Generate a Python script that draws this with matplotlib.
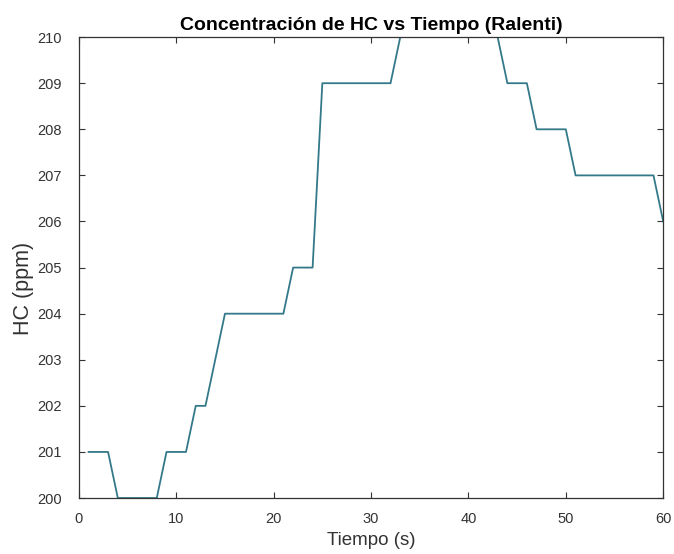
import matplotlib
matplotlib.use("Agg")
import matplotlib.pyplot as plt

plt.rcParams['font.family'] = ['Liberation Sans', 'DejaVu Sans']

tiempo = list(range(1, 61))
hc = [201, 201, 201, 200, 200, 200, 200, 200, 201, 201,
      201, 202, 202, 203, 204, 204, 204, 204, 204, 204,
      204, 205, 205, 205, 209, 209, 209, 209, 209, 209,
      209, 209, 210, 210, 210, 210, 210, 210, 210, 210,
      210, 210, 210, 209, 209, 209, 208, 208, 208, 208,
      207, 207, 207, 207, 207, 207, 207, 207, 207, 206]

xticks = [0, 10, 20, 30, 40, 50, 60]
yticks = list(range(200, 211))

fig = plt.figure(figsize=(6.74, 5.54), dpi=100)
ax = fig.add_axes([0.117, 0.101, 0.867, 0.832])
ax.plot(tiempo, hc, color='#34798a', linewidth=1.3)
ax.set_xlim(0, 60)
ax.set_ylim(200, 210)
ax.set_xticks(xticks)
ax.set_yticks(yticks)
ax.tick_params(direction='in', top=True, right=True, labelsize=10.5,
               colors='#333333', length=4, width=0.8)
ax.tick_params(axis='y', pad=12)
ax.tick_params(axis='x', pad=10)
for s in ax.spines.values():
    s.set_color('#333333')
    s.set_linewidth(0.9)
ax.set_title('Concentración de HC vs Tiempo (Ralenti)', fontsize=14,
             fontweight='bold', pad=5)
ax.set_xlabel('Tiempo (s)', fontsize=13.5, color='#333333')
ax.set_ylabel('HC (ppm)', fontsize=15.5, color='#333333')
ax.xaxis.set_label_coords(0.5, -0.074)
ax.yaxis.set_label_coords(-0.077, 0.455)
fig.savefig('out.png', dpi=100)
